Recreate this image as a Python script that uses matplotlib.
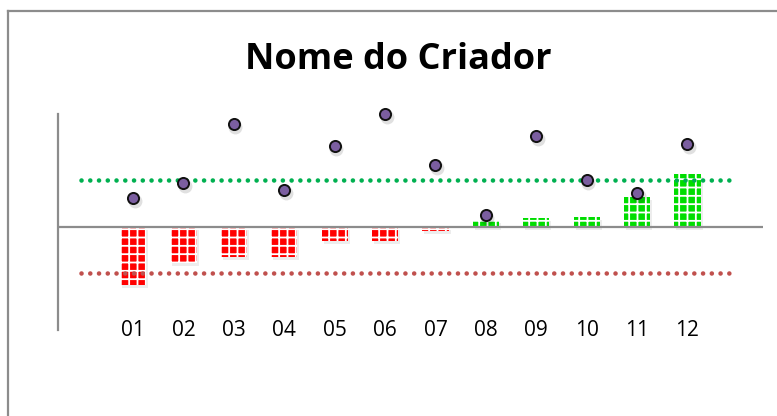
import matplotlib
matplotlib.use('Agg')
import matplotlib.pyplot as plt
from matplotlib.lines import Line2D
from matplotlib.transforms import blended_transform_factory

plt.rcParams['font.family'] = ['Open Sans', 'DejaVu Sans']

# dados
meses = ['01', '02', '03', '04', '05', '06', '07', '08', '09', '10', '11', '12']
barras = [-1.23, -0.76, -0.64, -0.64, -0.30, -0.30, -0.09, 0.15, 0.19, 0.21, 0.64, 1.13]
pontos = [0.62, 0.94, 2.19, 0.79, 1.72, 2.40, 1.32, 0.26, 1.94, 1.00, 0.72, 1.77]
limite_sup = 1.0
limite_inf = -0.98

W, H = 777, 416
fig = plt.figure(figsize=(W / 100, H / 100), dpi=100)
fig.patch.set_facecolor('white')

# moldura cinza
fig.add_artist(Line2D([8 / W, 8 / W], [0, 1 - 11 / H], color='#8c8c8c', lw=1.6))
fig.add_artist(Line2D([8 / W, 1], [1 - 11 / H, 1 - 11 / H], color='#8c8c8c', lw=1.6))

ax = fig.add_axes([58 / W, 1 - 330 / H, (763 - 58) / W, (330 - 114) / H])
ax.set_xlim(-1.49, 12.5)
ax.set_ylim(-2.19, 2.40)
for s in ['top', 'right', 'bottom']:
    ax.spines[s].set_visible(False)
ax.spines['left'].set_color('#8c8c8c')
ax.spines['left'].set_linewidth(1.6)
ax.set_xticks([])
ax.set_yticks([])

x = list(range(len(meses)))
cores = ['#ff0000' if v < 0 else '#00dd00' for v in barras]

plt.rcParams['hatch.linewidth'] = 1.3
# sombra leve
ax.bar([i + 0.04 for i in x], barras, width=0.52, bottom=-0.06,
       color='#000000', alpha=0.07, zorder=1)
ax.bar(x, barras, width=0.52, color=cores, edgecolor='white', hatch='++', linewidth=0, zorder=2)

ax.axhline(0, color='#8c8c8c', lw=1.6, zorder=3)

ax.hlines(limite_sup, -1.03, 11.95, colors='#00b050', lw=3.3, linestyles=(0, (0.01, 1.9)),
          capstyle='round', zorder=3)
ax.hlines(limite_inf, -1.03, 11.95, colors='#c0504d', lw=3.3, linestyles=(0, (0.01, 1.9)),
          capstyle='round', zorder=3)

# sombra dos pontos
ax.plot([i + 0.03 for i in x], [p - 0.07 for p in pontos], 'o', ms=10, color='#000000',
        alpha=0.12, mew=0, zorder=4, clip_on=False)
ax.plot(x, pontos, 'o', ms=8, markerfacecolor='#7b5ea0', markeredgecolor='#111111',
        mew=1.4, linestyle='none', zorder=5, clip_on=False)

trans = blended_transform_factory(ax.transData, ax.transAxes)
for i, m in enumerate(meses):
    ax.text(i, 0.0, m, transform=trans, ha='center', va='center', fontsize=15,
            color='black', clip_on=False)

fig.text(398 / W, 1 - 60 / H, 'Nome do Criador', ha='center', va='center',
         fontsize=26, fontweight='bold', color='black')

fig.savefig('out.png', dpi=100, facecolor='white')
